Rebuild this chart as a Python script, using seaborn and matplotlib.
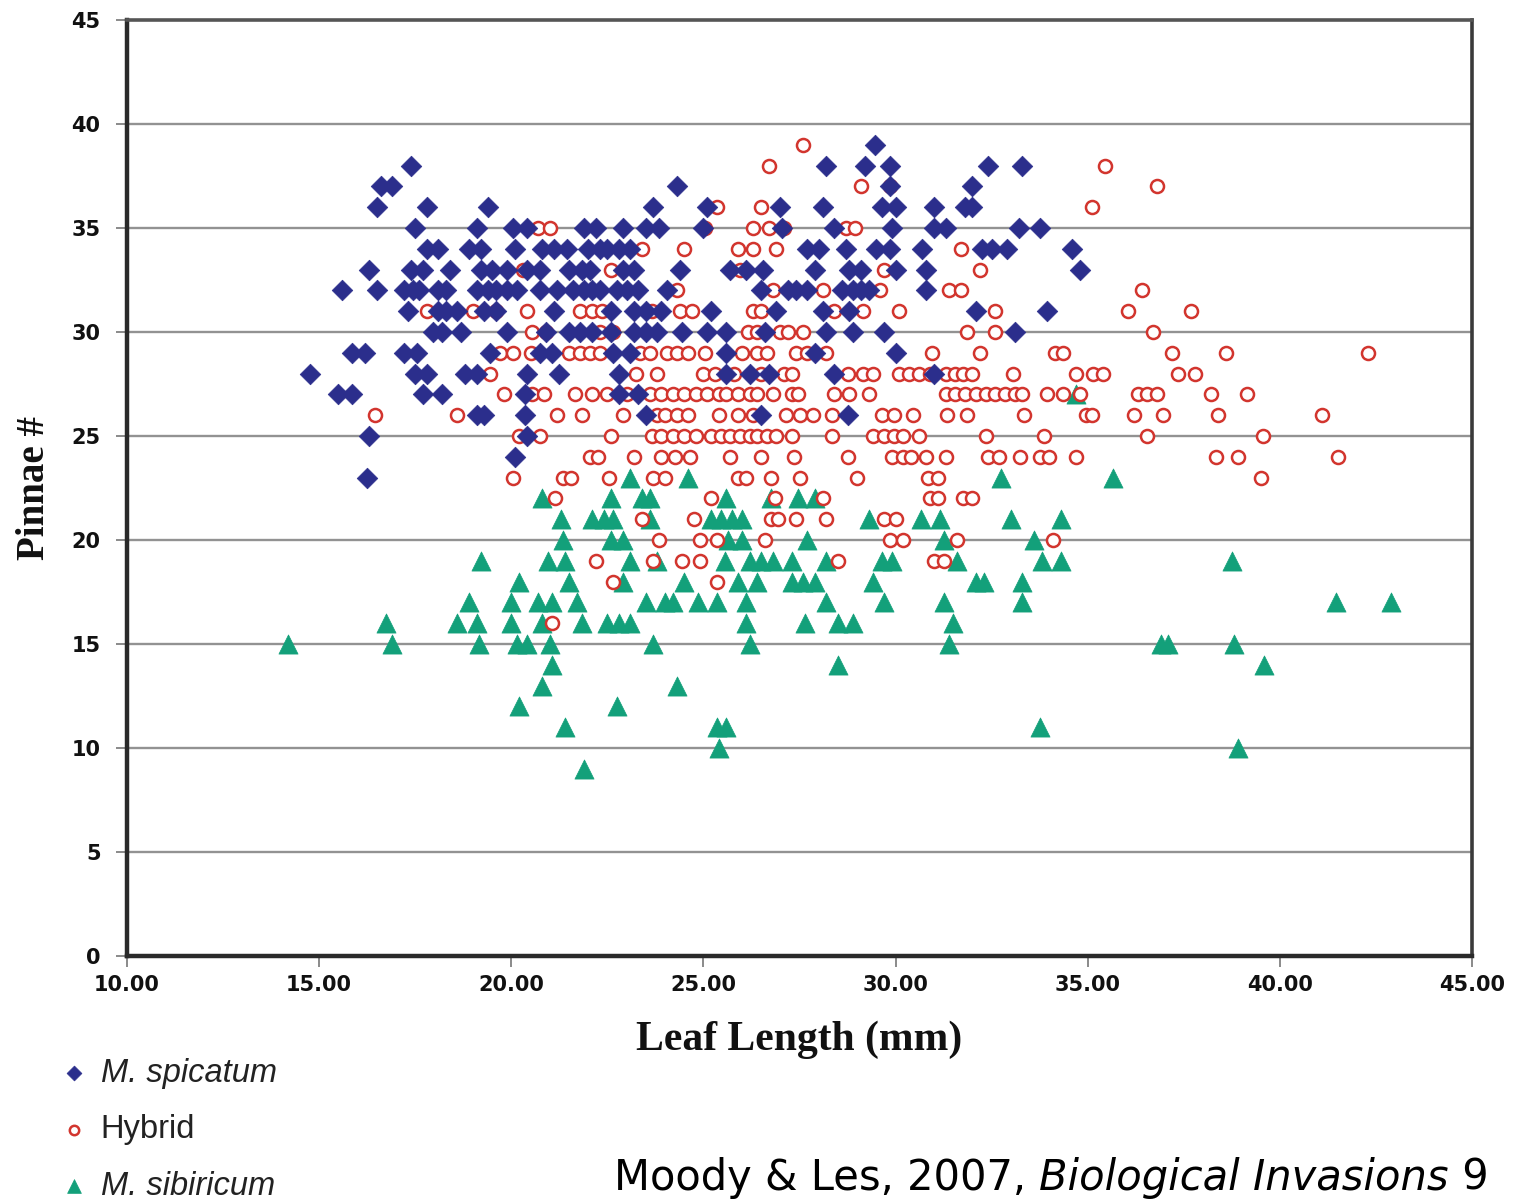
import matplotlib
matplotlib.use("Agg")
import matplotlib.pyplot as plt
import seaborn as sns
import pandas as pd

# ---------------- data (pinnae count -> leaf lengths in mm) ----------------
spicatum_rows = {
    39: [29.47],
    38: [17.4, 28.2, 29.2, 29.85, 32.4, 33.3],
    37: [16.6, 16.9, 24.3, 29.85, 32.0],
    36: [16.5, 17.8, 19.4, 23.7, 25.1, 27.0, 28.1, 29.65, 30.0, 31.0, 31.8, 32.0],
    35: [17.5, 19.1, 20.05, 20.4, 21.9, 22.2, 22.9, 23.5, 23.85, 25.0, 27.05, 28.4, 29.9, 31.0, 31.3, 33.2, 33.75],
    34: [17.8, 18.1, 18.9, 19.2, 20.1, 20.8, 21.1, 21.45, 22.0, 22.3, 22.5, 22.8, 23.1, 27.7, 28.0, 28.7, 29.5, 29.85, 30.7, 32.25, 32.5, 32.9, 34.6],
    33: [16.3, 17.4, 17.7, 18.4, 19.2, 19.5, 19.9, 20.4, 20.75, 21.5, 21.85, 22.05, 22.9, 23.2, 24.4, 25.7, 26.1, 26.55, 27.9, 28.8, 29.1, 30.0, 30.8, 34.8],
    32: [15.6, 16.5, 17.2, 17.45, 17.6, 18.1, 18.3, 19.1, 19.4, 19.6, 19.9, 20.15, 20.75, 21.2, 21.6, 21.9, 22.1, 22.3, 22.75, 23.0, 23.3, 24.05, 26.5, 27.2, 27.4, 27.7, 28.6, 28.9, 29.1, 29.3, 30.8],
    31: [17.3, 18.1, 18.3, 18.6, 19.3, 19.6, 21.1, 22.6, 23.2, 23.5, 23.9, 25.2, 26.9, 28.1, 28.8, 32.1, 33.95],
    30: [17.95, 18.2, 18.7, 19.9, 20.9, 21.5, 21.8, 22.1, 22.6, 23.2, 23.5, 23.8, 24.45, 25.1, 25.6, 26.6, 28.2, 28.9, 29.7, 33.1],
    29: [15.85, 16.2, 17.2, 17.55, 19.45, 20.75, 21.05, 22.65, 23.1, 25.6, 27.9, 30.0],
    28: [14.75, 17.5, 17.8, 18.8, 19.1, 20.4, 21.25, 22.8, 25.6, 26.2, 26.7, 28.4, 31.0],
    27: [15.5, 15.85, 17.7, 18.2, 20.35, 22.8, 23.3],
    26: [19.1, 19.3, 20.35, 23.5, 26.5, 28.75],
    25: [16.3, 20.4],
    24: [20.1],
    23: [16.25],
}

hybrid_rows = {
    39: [27.6],
    38: [26.7, 35.45],
    37: [29.1, 29.85, 36.8],
    36: [25.35, 26.5, 35.1],
    35: [20.7, 21.0, 25.05, 26.3, 26.7, 27.1, 28.7, 28.95],
    34: [23.4, 24.5, 25.9, 26.3, 26.9, 31.7],
    33: [20.3, 22.6, 25.95, 29.7, 32.2],
    32: [24.3, 26.8, 28.1, 29.6, 31.4, 31.7, 36.4],
    31: [17.8, 19.0, 19.6, 20.4, 21.8, 22.1, 22.35, 23.65, 24.4, 24.7, 26.3, 26.5, 28.4, 29.15, 30.1, 32.6, 36.05, 37.7],
    30: [20.55, 20.9, 22.3, 22.65, 26.15, 26.4, 27.0, 27.2, 27.6, 31.85, 32.6, 36.7],
    29: [19.7, 20.05, 20.5, 21.5, 21.8, 22.05, 22.3, 23.35, 23.6, 24.05, 24.3, 24.6, 25.05, 26.0, 26.4, 26.65, 27.4, 27.7, 28.2, 30.95, 32.2, 34.15, 34.35, 37.2, 38.6, 42.3],
    28: [19.45, 23.25, 23.8, 25.0, 25.3, 25.8, 26.5, 27.1, 27.3, 28.75, 29.15, 29.4, 30.1, 30.35, 30.6, 30.9, 31.3, 31.55, 31.75, 32.0, 33.05, 34.7, 35.15, 35.4, 37.35, 37.8],
    27: [19.8, 20.55, 20.85, 21.65, 22.1, 22.5, 23.0, 23.6, 23.9, 24.2, 24.5, 24.8, 25.1, 25.4, 25.6, 25.9, 26.2, 26.4, 26.8, 27.3, 27.45, 28.4, 28.8, 29.3, 31.3, 31.55, 31.8, 32.1, 32.35, 32.6, 32.85, 33.1, 33.3, 33.95, 34.35, 34.8, 36.3, 36.55, 36.8, 38.2, 39.15],
    26: [16.45, 18.6, 21.2, 21.85, 22.9, 23.8, 24.0, 24.3, 24.6, 25.4, 25.9, 26.3, 27.15, 27.5, 27.85, 28.35, 29.65, 29.95, 30.45, 31.35, 31.85, 33.35, 34.95, 35.1, 36.2, 36.95, 38.4, 41.1],
    25: [20.2, 20.75, 22.6, 23.65, 23.9, 24.2, 24.5, 24.8, 25.2, 25.45, 25.7, 25.95, 26.2, 26.4, 26.65, 26.9, 27.3, 28.35, 29.4, 29.7, 29.95, 30.2, 30.6, 32.35, 33.85, 36.55, 39.55],
    24: [22.05, 22.25, 23.2, 23.9, 24.25, 24.65, 25.7, 26.5, 27.35, 28.75, 29.9, 30.2, 30.4, 30.8, 31.3, 32.4, 32.7, 33.25, 33.75, 34.0, 34.7, 38.35, 38.9, 41.5],
    23: [20.05, 21.35, 21.55, 22.55, 23.7, 24.0, 25.9, 26.1, 26.75, 27.5, 29.0, 30.85, 31.1, 39.5],
    22: [21.15, 25.2, 26.85, 28.1, 30.9, 31.1, 31.75, 32.0],
    21: [23.4, 24.75, 26.75, 26.95, 27.4, 28.2, 29.7, 30.0],
    20: [23.85, 24.9, 25.35, 26.6, 29.85, 30.2, 31.6, 34.1],
    19: [22.2, 23.7, 24.45, 24.9, 28.5, 31.0, 31.25],
    18: [22.65, 25.35],
    16: [21.05],
}

sibiricum_rows = {
    27: [34.7],
    23: [23.1, 24.6, 32.75, 35.65],
    22: [20.8, 22.6, 23.4, 23.6, 25.6, 26.75, 27.45, 27.9],
    21: [21.3, 22.1, 22.4, 22.65, 23.6, 25.2, 25.45, 25.75, 26.0, 29.3, 30.65, 31.15, 33.0, 34.3],
    20: [21.35, 22.6, 22.9, 25.65, 26.0, 27.7, 31.25, 33.6],
    19: [19.2, 20.95, 21.4, 23.1, 23.8, 25.55, 26.2, 26.5, 26.8, 27.3, 28.2, 29.65, 29.9, 31.6, 33.8, 34.3, 38.75],
    18: [20.2, 21.5, 22.9, 24.5, 25.9, 26.4, 27.3, 27.6, 27.9, 29.4, 32.1, 32.3, 33.3],
    17: [18.9, 20.0, 20.7, 21.05, 21.7, 23.5, 24.0, 24.2, 24.85, 25.35, 26.1, 28.2, 29.7, 31.25, 33.3, 41.45, 42.9],
    16: [16.75, 18.6, 19.1, 20.0, 20.8, 21.85, 22.5, 22.8, 23.1, 26.1, 27.65, 28.5, 28.9, 31.5],
    15: [14.2, 16.9, 19.15, 20.15, 20.4, 21.0, 23.7, 26.2, 31.4, 36.9, 37.1, 38.8],
    14: [21.05, 28.5, 39.6],
    13: [20.8, 24.3],
    12: [20.2, 22.75],
    11: [21.4, 25.35, 25.6, 33.75],
    10: [25.4, 38.9],
    9: [21.9],
}

x_ticks = [10, 15, 20, 25, 30, 35, 40, 45]
y_ticks = [0, 5, 10, 15, 20, 25, 30, 35, 40, 45]
legend_labels = ["M. spicatum", "Hybrid", "M. sibiricum"]


def to_frame(rows):
    xs, ys = [], []
    for pinnae, lengths in rows.items():
        for v in lengths:
            xs.append(v)
            ys.append(pinnae)
    return pd.DataFrame({"leaf": xs, "pinnae": ys})


df_spi = to_frame(spicatum_rows)
df_hyb = to_frame(hybrid_rows)
df_sib = to_frame(sibiricum_rows)

# ---------------- style ----------------
sns.set_theme(style="white")
plt.rcParams["font.family"] = ["DejaVu Sans"]

W, H = 1513, 1200
fig = plt.figure(figsize=(W / 100, H / 100), dpi=100)
ax = fig.add_axes([127 / W, 1 - 956 / H, 1345 / W, 936 / H])

BLUE = "#2B2E8C"
RED = "#D2352E"
GREEN = "#13A07A"

for yv in y_ticks[1:-1]:
    ax.axhline(yv, color="#929292", lw=1.7, zorder=0)

sns.scatterplot(data=df_sib, x="leaf", y="pinnae", marker="^", s=190,
                color=GREEN, edgecolor=GREEN, linewidth=0.5,
                label=legend_labels[2], ax=ax, zorder=3)
sns.scatterplot(data=df_hyb, x="leaf", y="pinnae", marker="o", s=88,
                color="white", edgecolor=RED, linewidth=1.8,
                label=legend_labels[1], ax=ax, zorder=4)
sns.scatterplot(data=df_spi, x="leaf", y="pinnae", marker="D", s=110,
                color=BLUE, edgecolor=BLUE, linewidth=0.5,
                label=legend_labels[0], ax=ax, zorder=5)

ax.set_xlim(10, 45)
ax.set_ylim(0, 45)
ax.set_xticks(x_ticks)
ax.set_xticklabels([f"{t:.2f}" for t in x_ticks])
ax.set_yticks(y_ticks)
ax.set_yticklabels([str(t) for t in y_ticks])
for lab in ax.get_xticklabels() + ax.get_yticklabels():
    lab.set_fontweight("bold")
    lab.set_fontsize(15)
    lab.set_color("#111111")
ax.tick_params(axis="y", direction="out", length=8, width=1.2, color="#777777", pad=11, left=True)
ax.tick_params(axis="x", direction="out", length=8, width=1.2, color="#777777", pad=6, bottom=True)

for side in ["left", "bottom"]:
    ax.spines[side].set_color("#2a2a2a")
    ax.spines[side].set_linewidth(3.2)
for side in ["top", "right"]:
    ax.spines[side].set_color("#3a3a3a")
    ax.spines[side].set_linewidth(2.6)
ax.spines["top"].set_color("#555555")

ax.set_xlabel("Leaf Length (mm)", family="Liberation Serif", fontweight="bold",
              fontsize=30, color="#111111", va="baseline")
ax.xaxis.set_label_coords(0.5, (956 - 1050) / 936)
ax.set_ylabel("Pinnae #", family="Liberation Serif", fontweight="bold",
              fontsize=28, color="#111111", va="center")
ax.yaxis.set_label_coords((35 - 127) / 1345, 0.5)

# legend below the plot, bottom-left
handles, labels = ax.get_legend_handles_labels()
order = [labels.index(l) for l in legend_labels]
leg = ax.legend([handles[i] for i in order], [labels[i] for i in order],
                loc="upper left", bbox_to_anchor=(63 / W, 1 - 1058 / H),
                bbox_transform=fig.transFigure, frameon=False,
                prop={"family": "Liberation Sans", "size": 23.5},
                labelspacing=0.78, handlelength=0.65, handletextpad=0.5,
                markerscale=0.72, borderpad=0, borderaxespad=0)
for t, lab in zip(leg.get_texts(), legend_labels):
    t.set_color("#222222")
    if lab.startswith("M."):
        t.set_style("italic")

# citation at the bottom
renderer = fig.canvas.get_renderer()
base_y = 10 / H
t1 = fig.text(614 / W, base_y, "Moody & Les, 2007, ", fontsize=30,
              family="DejaVu Sans", va="baseline", ha="left", color="black")
bb = t1.get_window_extent(renderer)
t2 = fig.text(bb.x1 / W, base_y, "Biological Invasions", fontsize=30,
              family="DejaVu Sans", style="italic", va="baseline", ha="left", color="black")
bb2 = t2.get_window_extent(renderer)
fig.text(bb2.x1 / W, base_y, " 9", fontsize=30, family="DejaVu Sans",
         va="baseline", ha="left", color="black")

fig.savefig("out.png", dpi=100)
